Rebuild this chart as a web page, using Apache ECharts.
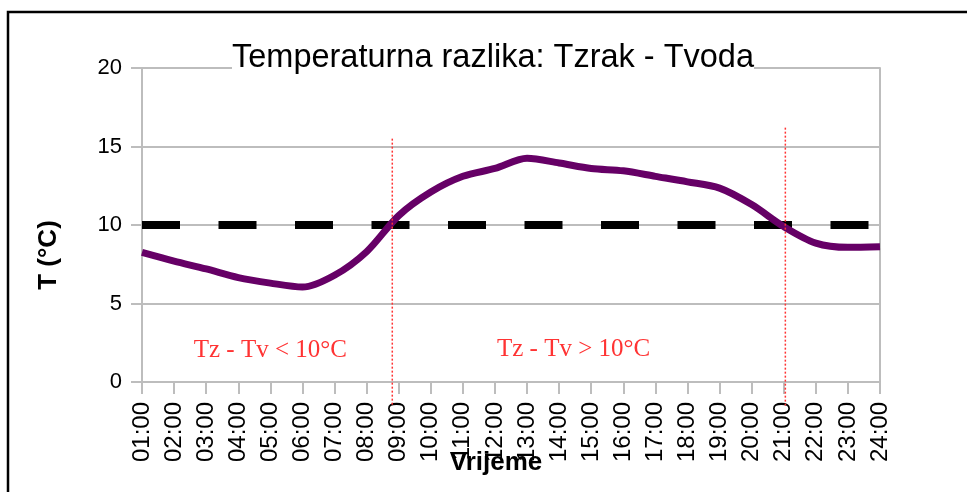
<!DOCTYPE html>
<html>
<head>
<meta charset="utf-8">
<script src="https://cdn.jsdelivr.net/npm/echarts@6/dist/echarts.min.js"></script>
<style>
  html, body { margin: 0; padding: 0; background: #fff; }
  #chart { width: 967px; height: 492px; }
</style>
</head>
<body>
<div id="chart"></div>
<script>
// Hourly air-minus-water temperature difference
const hours = [1, 2, 3, 4, 5, 6, 7, 8, 9, 10, 11, 12, 13, 14, 15, 16, 17, 18, 19, 20, 21, 22, 23, 24];
const hourLabels = ['01:00', '02:00', '03:00', '04:00', '05:00', '06:00', '07:00', '08:00',
  '09:00', '10:00', '11:00', '12:00', '13:00', '14:00', '15:00', '16:00',
  '17:00', '18:00', '19:00', '20:00', '21:00', '22:00', '23:00', '24:00'];
const tempDiff = [8.25, 7.7, 7.2, 6.65, 6.3, 6.05, 6.8, 8.3, 10.6, 12.1, 13.1, 13.6,
  14.25, 13.95, 13.6, 13.45, 13.1, 12.75, 12.35, 11.3, 9.9, 8.85, 8.58, 8.62];

// 10 °C threshold, drawn across the whole day
const threshold = 10;
const thresholdHours = [1, 24];

// Hours where the difference crosses the threshold, with the extent of each marker line (°C)
const boundaryHours = [8.8, 21.05];
const boundaryTop = [15.5, 16.2];
const boundaryBottom = -1.5;

// Zone annotations: text and anchor (hour, °C)
const zoneTexts = ['Tz - Tv < 10°C', 'Tz - Tv > 10°C'];
const zoneHours = [5.0, 14.45];
const zoneValues = [2.0, 2.05];

const axisGray = '#bdbdbd';
const chart = echarts.init(document.getElementById('chart'), null, { renderer: 'canvas' });

chart.setOption({
  animation: false,
  backgroundColor: '#fff',
  textStyle: { fontFamily: 'Liberation Sans' },
  title: {
    text: 'Temperaturna razlika: Tzrak - Tvoda',
    left: 232,
    top: 40,
    padding: [2, 0, 4, 0],
    backgroundColor: '#fff',
    textStyle: { fontSize: 32.5, fontWeight: 'normal', color: '#000', fontFamily: 'Liberation Sans' }
  },
  grid: { left: 142, right: 87, top: 68, bottom: 110, containLabel: false, outerBoundsMode: 'none' },
  xAxis: {
    type: 'value',
    min: 1,
    max: 24,
    interval: 1,
    axisLine: { show: true, onZero: false, lineStyle: { color: axisGray, width: 2 } },
    axisTick: { show: true, length: 12, lineStyle: { color: axisGray, width: 2 } },
    splitLine: { show: false },
    axisLabel: {
      rotate: 90,
      margin: 20,
      fontSize: 24,
      color: '#000',
      fontFamily: 'Liberation Sans',
      formatter: function (v) {
        const i = hours.indexOf(v);
        return i >= 0 ? hourLabels[i] : '';
      }
    },
    name: 'Vrijeme',
    nameLocation: 'middle',
    nameGap: 68,
    nameMoveOverlap: false,
    nameTextStyle: { fontWeight: 'bold', fontSize: 26, color: '#000', fontFamily: 'Liberation Sans', padding: [0, 30, 0, 0] }
  },
  yAxis: [{
    type: 'value',
    min: 0,
    max: 20,
    interval: 5,
    axisLine: { show: true, lineStyle: { color: axisGray, width: 2 } },
    axisTick: { show: true, length: 11, lineStyle: { color: axisGray, width: 2 } },
    splitLine: { show: true, lineStyle: { color: axisGray, width: 2 } },
    axisLabel: { margin: 20, fontSize: 22, color: '#000', fontFamily: 'Liberation Sans' },
    name: 'T (°C)',
    nameLocation: 'middle',
    nameGap: 80,
    nameMoveOverlap: false,
    nameTextStyle: { fontWeight: 'bold', fontSize: 26, color: '#000', fontFamily: 'Liberation Sans', padding: [0, 60, 0, 0] }
  }, {
    type: 'value',
    position: 'right',
    min: 0,
    max: 20,
    interval: 5,
    axisLine: { show: true, lineStyle: { color: axisGray, width: 2 } },
    axisTick: { show: false },
    axisLabel: { show: false },
    splitLine: { show: false }
  }],
  series: [{
    name: 'Granica',
    type: 'line',
    silent: true,
    symbol: 'none',
    data: thresholdHours.map(h => [h, threshold]),
    lineStyle: { color: '#000', width: 8, type: [38, 38.5], cap: 'butt' }
  }, {
    name: 'Tzrak - Tvoda',
    type: 'line',
    symbol: 'none',
    smooth: 0.3,
    data: hours.map((h, i) => [h, tempDiff[i]]),
    lineStyle: { color: '#660066', width: 7 }
  }]
});

// Frame, threshold-crossing markers and zone annotations placed through the chart's scales
const px = (h, v) => chart.convertToPixel({ gridIndex: 0 }, [h, v]);
const graphics = [{
  type: 'rect',
  silent: true,
  z: 100,
  shape: { x: 8, y: 12, width: 1000, height: 600 },
  style: { fill: 'none', stroke: '#000', lineWidth: 2.5 }
}];
boundaryHours.forEach((h, i) => {
  const a = px(h, boundaryTop[i]);
  const b = px(h, boundaryBottom);
  graphics.push({
    type: 'line',
    silent: true,
    z: 50,
    shape: { x1: a[0], y1: a[1], x2: b[0], y2: b[1] },
    style: { stroke: '#ff3333', lineWidth: 1.5, lineDash: [2, 2] }
  });
});
zoneTexts.forEach((t, i) => {
  const p = px(zoneHours[i], zoneValues[i]);
  graphics.push({
    type: 'text',
    silent: true,
    z: 50,
    x: p[0],
    y: p[1],
    style: {
      text: t,
      fill: '#ff3333',
      font: '25px "Liberation Serif"',
      align: 'center',
      verticalAlign: 'middle'
    }
  });
});
chart.setOption({ graphic: graphics });
</script>
</body>
</html>
